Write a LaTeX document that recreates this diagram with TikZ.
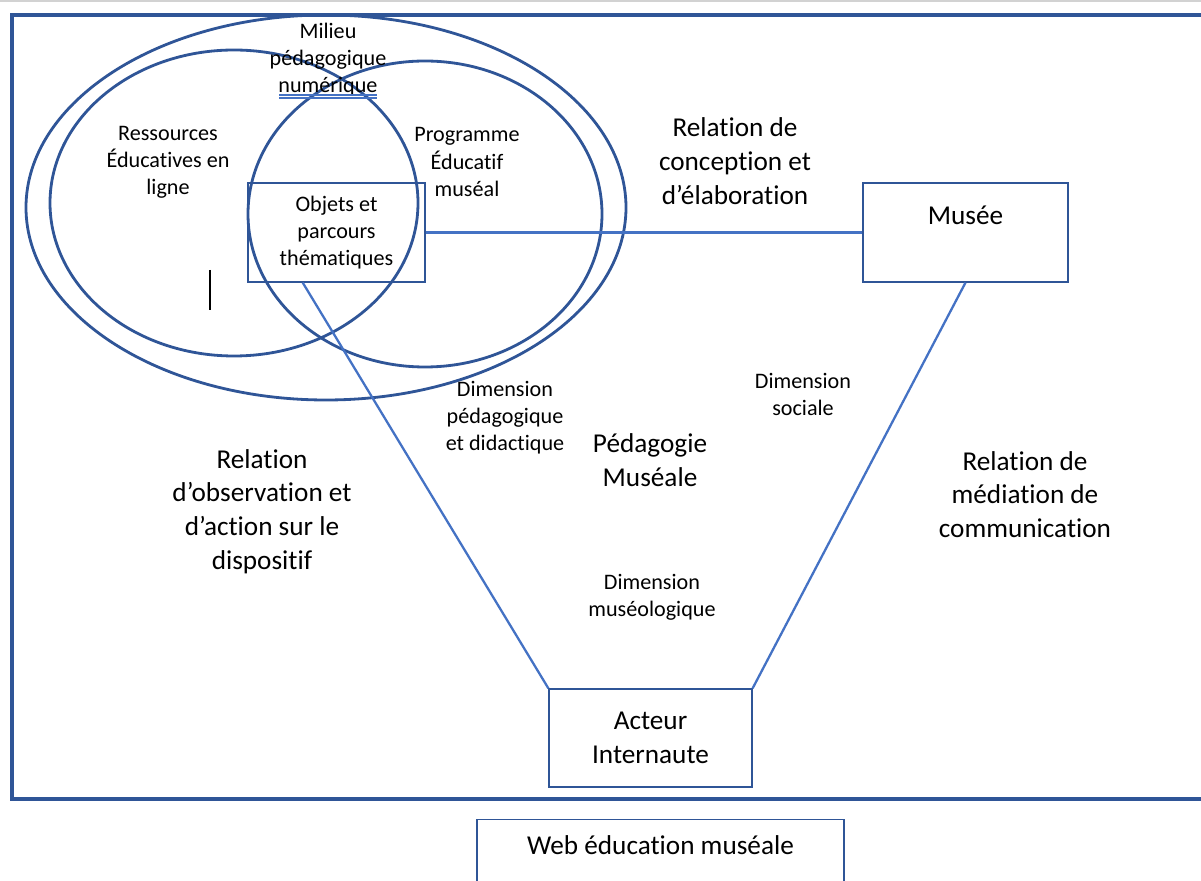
\documentclass[tikz,border=0pt]{standalone}
\usepackage{fontspec}
\setmainfont[Ligatures=NoCommon]{Carlito}
\definecolor{bleufonce}{HTML}{2F5597}
\definecolor{bleu}{HTML}{4472C4}

\tikzset{
  petit/.style={font=\fontsize{12.6}{15.4}\selectfont, align=center},
  grand/.style={font=\fontsize{15.5}{19.2}\selectfont, align=center},
  boite/.style={draw=bleufonce, line width=.7pt},
  cercle/.style={draw=bleufonce, line width=1.6pt},
  lien/.style={draw=bleu, line width=1.3pt}
}

\begin{document}
\begin{tikzpicture}[x=0.02cm, y=-0.02cm]
\useasboundingbox (0,0) rectangle (1201,881);
\draw[gray!35, line width=1pt] (0,1) -- (1201,1);
\draw[bleufonce, line width=1.8pt] (12,15) rectangle (1230,799);

% milieu pedagogique
\draw[cercle] (326,207.5) ellipse [x radius=300, y radius=192.5];
\draw[cercle] (234,203) ellipse [x radius=184, y radius=153];
\draw[cercle] (425,214) ellipse [x radius=177, y radius=153];

\node[petit] (milieu) at (328,60) {Milieu\\pédagogique\\numérique};
\draw[bleu, line width=.6pt] (279,95) -- (377,95) (279,98) -- (377,98);
\node[petit] (ressources) at (168,162) {Ressources\\Éducatives en\\ligne};
\node[petit] (programme) at (467,162) {Programme\\Éducatif\\muséal};
\draw[black, line width=.6pt] (210,270) -- (210,310);

% boites
\node[boite, petit, minimum width=3.54cm, minimum height=1.98cm] (objets) at (336.5,232.5) {Objets et\\parcours\\thématiques};
\node[boite, grand, minimum width=4.1cm, minimum height=1.98cm] (musee) at (965.5,232.5) {Musée\\~};
\node[boite, grand, minimum width=4.06cm, minimum height=1.96cm] (acteur) at (650.5,738) {Acteur\\Internaute};
\node[boite, grand, minimum width=7.34cm, minimum height=1.44cm, text depth=12pt, anchor=north] (web) at (660.5,819) {Web éducation muséale};

% textes
\node[grand] (conception) at (735,161) {Relation de\\conception et\\d’élaboration};
\node[petit] (dimpeda) at (505,418) {Dimension\\pédagogique\\et didactique};
\node[petit] (dimsociale) at (803,394.5) {Dimension\\sociale};
\node[grand] (pedagogie) at (650,460) {Pédagogie\\Muséale};
\node[grand] (observation) at (262,511.5) {Relation\\d’observation et\\d’action sur le\\dispositif};
\node[grand] (mediation) at (1025,494.5) {Relation de\\médiation de\\communication};
\node[petit] (dimmuseo) at (652,597.5) {Dimension\\muséologique};

\draw[lien] (objets) -- (musee);
\draw[lien] (objets.236) -- (acteur.north west);
\draw[lien] (musee.south) -- (acteur.north east);
\end{tikzpicture}
\end{document}
